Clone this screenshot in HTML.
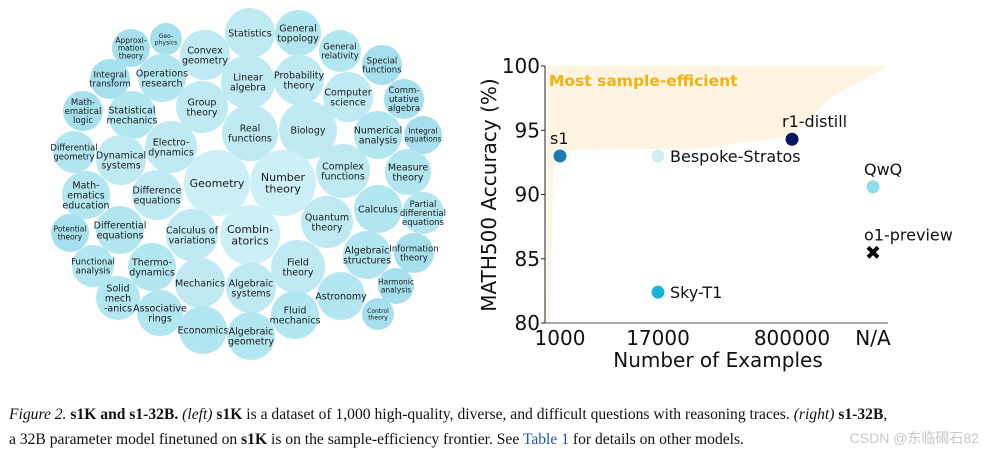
<!DOCTYPE html>
<html><head><meta charset="utf-8"><style>
body{margin:0;background:#fff;width:985px;height:448px;overflow:hidden;position:relative;font-family:"DejaVu Sans","Liberation Sans",sans-serif}
svg{position:absolute;left:0;top:0}
#cap{position:absolute;left:9px;top:402px;font-family:"Liberation Serif",serif;font-size:15.6px;line-height:25px;color:#111;white-space:nowrap}
#wm{position:absolute;right:6px;top:428px;font-family:"Liberation Sans","Noto Sans CJK SC",sans-serif;font-size:14px;color:#c8c8c8}
</style></head><body>
<svg id="bub" width="470" height="380"></svg>
<svg id="chart" width="985" height="380" style="left:0"></svg>
<div id="cap"><i>Figure 2.</i> <b>s1K and s1-32B.</b> <i>(left)</i> <b>s1K</b> is a dataset of 1,000 high-quality, diverse, and difficult questions with reasoning traces. <i>(right)</i> <b>s1-32B</b>,<br>a 32B parameter model finetuned on <b>s1K</b> is on the sample-efficiency frontier. See <span style="color:#2255aa">Table 1</span> for details on other models.</div>
<div id="wm">CSDN @东临碣石82</div>
<script>
const NS="http://www.w3.org/2000/svg";
function mk(p,t,a){const e=document.createElementNS(NS,t);for(const k in a)e.setAttribute(k,a[k]);p.appendChild(e);return e;}
// bubbles: label, cx, cy, r
const bubbleLabels=["Approxi-|mation|theory","Geo-|physics","Convex|geometry","Statistics","General|topology","General|relativity","Special|functions","Integral|transform","Operations|research","Linear|algebra","Probability|theory","Computer|science","Comm-|utative|algebra","Math-|ematical|logic","Statistical|mechanics","Group|theory","Real|functions","Biology","Numerical|analysis","Integral|equations","Differential|geometry","Dynamical|systems","Electro-|dynamics","Complex|functions","Measure|theory","Geometry","Number|theory","Math-|ematics|education","Difference|equations","Calculus","Partial|differential|equations","Quantum|theory","Potential|theory","Differential|equations","Calculus of|variations","Combin-|atorics","Algebraic|structures","Information|theory","Functional|analysis","Thermo-|dynamics","Field|theory","Mechanics","Algebraic|systems","Harmonic|analysis","Solid|mech|-anics","Astronomy","Associative|rings","Fluid|mechanics","Control|theory","Economics","Algebraic|geometry"];
const bubbleSizes=[[131,48,19],[166,39,16],[205,55,25],[250,33,25],[298,33,23],[340,51,21],[382,65,20],[110,79,20],[162,78,24],[248,82,27],[299,80,25],[348,97,25],[404,99,20],[83,111,20],[132,115,24],[202,107,26],[250,133,28],[308,130,29],[378,135,24],[423,135,19],[74,152,21],[121,160,25],[171,147,26],[343,171,27],[408,172,23],[217,183,33],[283,183,33],[86,195,24],[157,195,25],[378,209,24],[423,213,21],[327,222,26],[70,233,19],[120,230,24],[192,235,26],[250,235,30],[367,255,24],[414,253,20],[93,266,21],[152,267,24],[298,267,27],[200,283,25],[251,288,25],[396,286,18],[118,298,22],[341,296,24],[160,313,23],[295,315,24],[378,314,16],[203,330,24],[251,336,24]];
const bub=document.getElementById('bub');
bubbleLabels.forEach((lab,i)=>{
 const [x,y,r]=bubbleSizes[i];
 const g=mk(bub,'g',{});
 
 
 const c=r>=30?'#cdeff7':r>=25?'#bfeaf4':r>=21?'#b2e6f1':'#a6e0ee';
 mk(g,'circle',{cx:x,cy:y,r:r,fill:c});
 const lines=lab.split('|');
 const fs=r<=16?6:r<=19?7.5:r<=21?8.5:r>=30?11:9.5;
 const lh=fs*1.05;
 lines.forEach((l,j)=>{const t=mk(g,'text',{x:x,y:y+(j-(lines.length-1)/2)*lh+fs*0.35,'text-anchor':'middle','font-size':fs,fill:'#1a1a1a'});t.textContent=l;});
});
// chart
const categories=["1000","17000","800000","N/A"];
const modelNames=["s1","Bespoke-Stratos","r1-distill","QwQ","o1-preview","Sky-T1"];
const modelCats=[0,1,2,3,3,1];
const modelAcc=[93.0,93.0,94.3,90.6,85.5,82.4];
const yTicks=[80,85,90,95,100];
const colors=["#1a7ab5","#cdeef5","#0b1560","#8fdcec","#000","#18b4d6"];
const cx=[560,658,792,873];
const X=i=>cx[i];
const Y=v=>323-(v-80)*(323-66)/20;
const ch=document.getElementById('chart');
// frontier shading
mk(ch,'path',{d:`M547,${Y(100)} L888,${Y(100)} L830,${Y(97.5)} L${X(2)},${Y(modelAcc[2])-3} L700,${Y(93.1)-6} L${X(0)+2},${Y(modelAcc[0])-6} L553,${Y(92)} L550,${Y(80)} L547,${Y(80)}Z`,fill:'#fdf5e1'});
const tt=mk(ch,'text',{x:549,y:86,'font-size':15.5,'font-weight':'bold',fill:'#f2b30c'});tt.textContent="Most sample-efficient";

mk(ch,'line',{x1:545,y1:66,x2:545,y2:323,stroke:'#222','stroke-width':1});
mk(ch,'line',{x1:545,y1:323,x2:888,y2:323,stroke:'#555','stroke-width':1});
yTicks.forEach(v=>{mk(ch,'line',{x1:541,x2:545,y1:Y(v),y2:Y(v),stroke:'#222'});const t=mk(ch,'text',{x:540,y:Y(v)+7,'text-anchor':'end','font-size':20,fill:'#111'});t.textContent=v;});
categories.forEach((c,i)=>{const t=mk(ch,'text',{x:X(i),y:345,'text-anchor':'middle','font-size':20,fill:'#111'});t.textContent=c;});
const xl=mk(ch,'text',{x:718,y:367,'text-anchor':'middle','font-size':20,fill:'#111'});xl.textContent="Number of Examples";
const yl=mk(ch,'text',{x:0,y:0,'text-anchor':'middle','font-size':20,fill:'#111',transform:'translate(496,195) rotate(-90)'});yl.textContent="MATH500 Accuracy (%)";
modelNames.forEach((n,i)=>{
 const x=X(modelCats[i]),y=Y(modelAcc[i]);
 let m;
 if(n==="o1-preview"){m=mk(ch,'path',{d:`M${x-5},${y-5}L${x+5},${y+5}M${x+5},${y-5}L${x-5},${y+5}`,stroke:'#000','stroke-width':4});}
 else m=mk(ch,'circle',{cx:x,cy:y,r:6.5,fill:colors[i]});
 
 
 let lx,ly,anc='start';
 if(n==="Bespoke-Stratos"||n==="Sky-T1"){lx=x+12;ly=y+6;}
 else if(n==="s1"){lx=x-10;ly=y-12;}
 else if(n==="r1-distill"){lx=x-10;ly=y-12;}
 else {lx=x-9;ly=y-12;}
 const t=mk(ch,'text',{x:lx,y:ly,'font-size':16,fill:'#111','text-anchor':anc});t.textContent=n;
 
});
</script>
</body></html>
